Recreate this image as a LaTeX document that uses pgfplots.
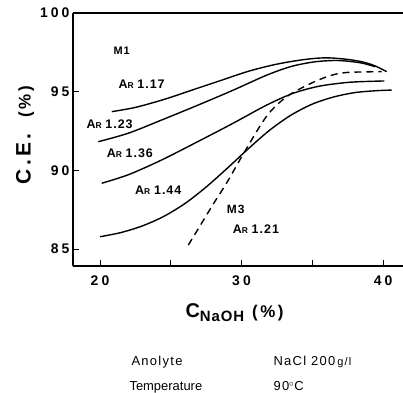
\documentclass[border=0pt]{standalone}
\usepackage{fontspec}
\setmainfont{Liberation Sans}
\newfontfamily\tickf[LetterSpace=22]{Liberation Sans}
\newfontfamily\labf[LetterSpace=8]{Liberation Sans}
\newfontfamily\axf[LetterSpace=15]{Liberation Sans}
\newfontfamily\subf[LetterSpace=6]{Liberation Sans}
\newfontfamily\txtf[LetterSpace=10]{Liberation Sans}
\newfontfamily\txtn[LetterSpace=0]{Liberation Sans}
\usepackage{pgfplots}
\pgfplotsset{compat=1.18}
\newcommand{\AR}[1]{{\labf\bfseries\fontsize{12.5}{13}\selectfont A{\fontsize{8.5}{9}\selectfont R}\hspace{0.3em}#1}}
\begin{document}
\begin{tikzpicture}[x=1bp,y=1bp]
\path[use as bounding box] (0,0) rectangle (403,393);
\begin{axis}[
  at={(73bp,127bp)}, anchor=south west,
  scale only axis, width=330bp, height=253bp,
  xmin=18.09, xmax=41.41, ymin=83.92, ymax=100,
  axis x line=box, axis y line=left,
  axis line style={line width=1.4bp,-},
  xtick={20,30,40}, minor xtick={25,35}, ytick={85,90,95,100},
  xtick pos=bottom, ytick pos=left,
  tick align=inside, major tick length=6bp, minor tick length=6bp,
  every tick/.style={line width=1bp,black},
  /pgf/number format/assume math mode=true,
  ticklabel style={font=\tickf\bfseries\fontsize{14}{15}\selectfont},
  xticklabel style={yshift=-6bp},
  yticklabel style={xshift=0bp},
  clip=false,
]
\addplot[line width=1.4bp, smooth] coordinates {
(20.83,93.73) (22.5,94.0) (24.5,94.5) (26.5,95.1) (28.5,95.7) (30.5,96.3) (32.5,96.75) (34.5,97.05) (36.0,97.15) (37.5,97.05) (38.6,96.88) (39.4,96.65) (40.26,96.27)};
\addplot[line width=1.4bp, smooth] coordinates {
(19.88,91.82) (22.0,92.36) (24.36,93.2) (27.07,94.2) (29.42,95.1) (31.78,96.05) (33.5,96.6) (35.2,96.9) (36.8,96.98) (38.37,96.84) (39.43,96.59)};
\addplot[line width=1.4bp, smooth] coordinates {
(20.12,89.18) (22.0,89.72) (24.36,90.66) (27.07,91.9) (29.42,93.0) (31.78,94.15) (33.66,94.9) (35.5,95.35) (37.67,95.6) (40.1,95.68)};
\addplot[line width=1.4bp, smooth] coordinates {
(20.0,85.78) (21.5,86.05) (23.0,86.47) (24.5,87.07) (26.0,87.89) (27.5,88.94) (29.0,90.14) (30.5,91.39) (32.0,92.56) (33.5,93.51) (35.0,94.21) (36.5,94.66) (38.0,94.94) (39.5,95.06) (40.6,95.1)};
\addplot[line width=1.4bp, smooth, dash pattern=on 7bp off 5bp] coordinates {
(26.24,85.25) (28.0,87.85) (28.95,89.2) (30.13,91.05) (31.78,93.45) (33.19,94.68) (34.84,95.5) (36.2,96.0) (37.43,96.22) (39.9,96.27)};
\node[anchor=west, font=\labf\bfseries\fontsize{11}{12}\selectfont] at (axis cs:20.71,97.6) {M1};
\node[anchor=west] at (axis cs:21.06,95.49) {\AR{1.17}};
\node[anchor=west] at (axis cs:18.8,92.95) {\AR{1.23}};
\node[anchor=west] at (axis cs:20.23,91.08) {\AR{1.36}};
\node[anchor=west] at (axis cs:22.24,88.75) {\AR{1.44}};
\node[anchor=west, font=\labf\bfseries\fontsize{12}{12}\selectfont] at (axis cs:28.72,87.54) {M3};
\node[anchor=west] at (axis cs:29.14,86.25) {\AR{1.21}};
\end{axis}
\node[rotate=90, font=\axf\bfseries\fontsize{21}{21}\selectfont] at (25,258) {C.E.\hspace{0.8em}{\fontsize{17}{17}\selectfont(\%)}};
\node[anchor=west, font=\axf\bfseries\fontsize{20}{20}\selectfont] at (182,80) {C\raisebox{-4bp}{\subf\bfseries\fontsize{15}{15}\selectfont NaOH}\hspace{0.4em}{\fontsize{17}{17}\selectfont(\%)}};
\node[anchor=west, font=\txtf\fontsize{13}{14}\selectfont] at (128,31) {Anolyte};
\node[anchor=west, font=\txtf\fontsize{13}{14}\selectfont] at (270,31) {NaCl 200\,{\fontsize{11}{11}\selectfont g/l}};
\node[anchor=west, font=\txtn\fontsize{13}{14}\selectfont] at (126,6) {Temperature};
\node[anchor=west, font=\txtf\fontsize{13}{14}\selectfont] at (270,7) {90$^{\circ}$C};
\end{tikzpicture}
\end{document}
